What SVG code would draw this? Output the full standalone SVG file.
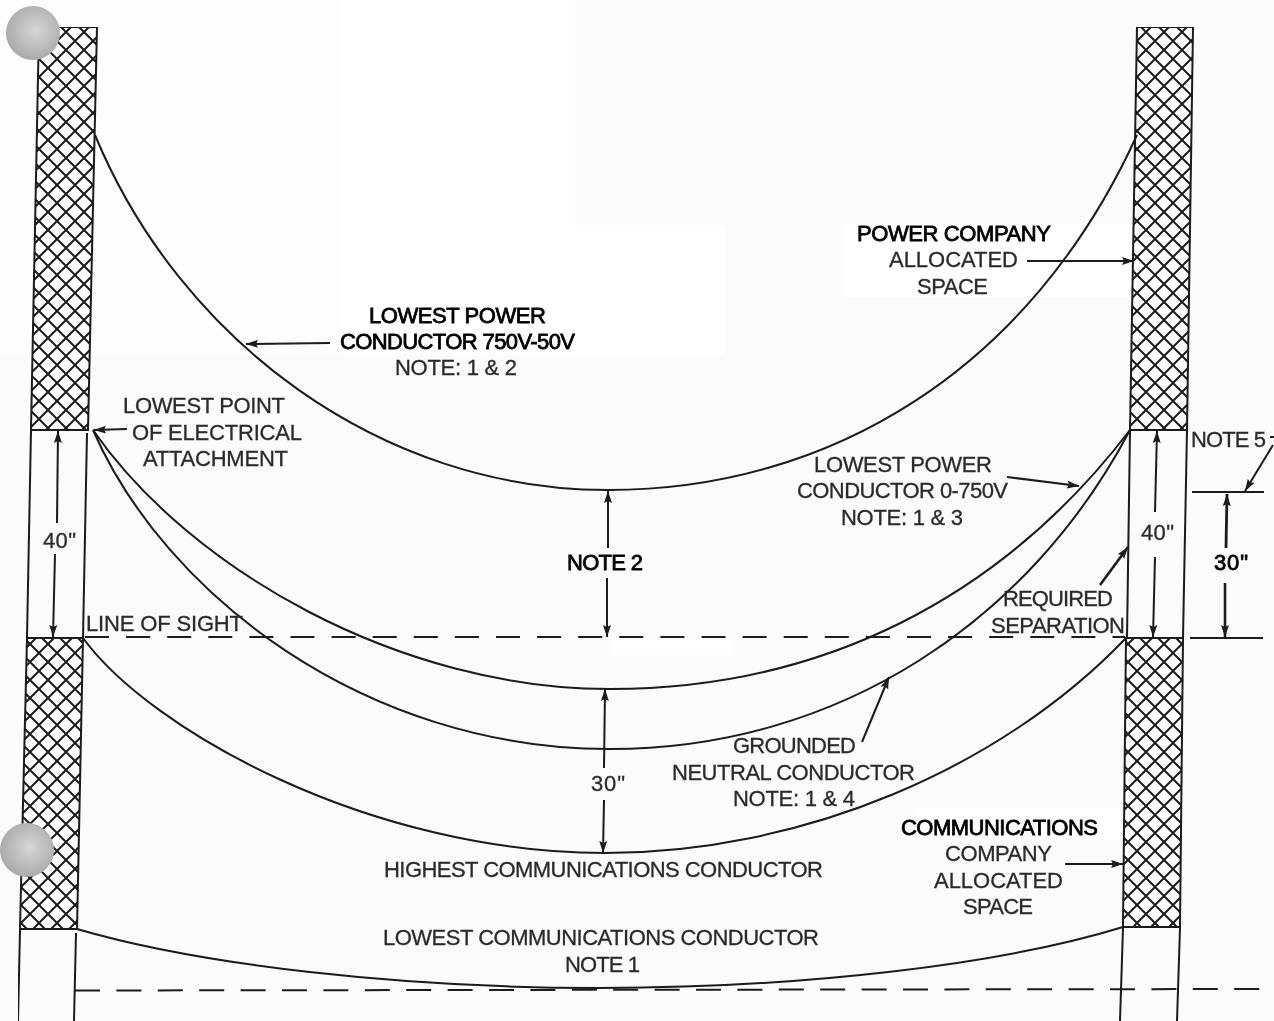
<svg xmlns="http://www.w3.org/2000/svg" width="1274" height="1021" viewBox="0 0 1274 1021">
<style>
.l{fill:none;stroke:#1a1a1a;stroke-width:2}
.d{fill:none;stroke:#1a1a1a;stroke-width:2}
.a{fill:none;stroke:#1a1a1a;stroke-width:2;marker-end:url(#ah)}
.p{fill:url(#hatch);stroke:#1a1a1a;stroke-width:2}
text{font-family:"Liberation Sans",Arial,sans-serif;font-size:22px;fill:#2a2a2a;stroke:#2a2a2a;stroke-width:.3}
.b{fill:#050505;stroke:#050505;stroke-width:.8}
.c{fill:url(#ball)}
</style>
<defs>
<pattern id="hatch" patternUnits="userSpaceOnUse" width="18" height="18" x="3" y="5">
<rect width="18" height="18" fill="#fff"/>
<path d="M-2,-2L20,20M-2,20L20,-2" stroke="#1a1a1a" stroke-width="2" fill="none"/>
</pattern>
<radialGradient id="ball" cx="0.55" cy="0.45" r="0.55">
<stop offset="0" stop-color="#d6d6d6"/><stop offset="1" stop-color="#ababab"/>
</radialGradient>
<marker id="ah" markerUnits="userSpaceOnUse" markerWidth="13" markerHeight="10" refX="12" refY="5" orient="auto">
<path d="M0,1L12,5L0,9L2,5z" fill="#1a1a1a"/>
</marker>
<filter id="soft" x="0" y="0" width="1" height="1"><feGaussianBlur stdDeviation="0.4"/></filter>
</defs>
<rect id="background" width="1274" height="1021" fill="#fbfbfb"/>
<g id="patches">
<rect x="0" y="0" width="340" height="355" fill="#fdfdfd"/>
<rect x="340" y="0" width="235" height="355" fill="#fff"/>
<rect x="575" y="225" width="150" height="72" fill="#fff"/>
<rect x="575" y="297" width="150" height="58" fill="#fff"/>
<rect x="845" y="224" width="290" height="73" fill="#fff"/>
<rect x="612" y="640" width="120" height="15" fill="#fff"/>
<rect x="917" y="808" width="205" height="32" fill="#fff"/>
</g>
<g filter="url(#soft)">
<g id="poles">
<g id="pole-left-upper"><path class="p" d="M39,27H97L88,430H31z"/></g>
<g id="pole-left-lower"><path class="p" d="M27,638H83L77,929H20z"/></g>
<g id="pole-right-upper"><path class="p" d="M1137,27H1193L1187,430H1130z"/></g>
<g id="pole-right-lower"><path class="p" d="M1126,638H1183L1180,927H1123z"/></g>
</g>
<g id="connectors">
<path class="l" d="M31,430L27,638M87,433L83,638M20,930L18,1021M76,933L74,1021"/>
<path class="l" d="M1130,430L1127,638M1187,430L1183,638M1123,928L1120,1021M1180,928L1177,1021"/>
<path class="l" d="M95,135C180,340 380,490 608,490C830,490 1030,370 1137,135"/>
<path class="l" d="M93,430C190,570 400,689 610,689C820,689 1000,600 1130,430"/>
<path class="l" d="M93,430C165,595 365,749 610,749C840,749 1030,620 1130,430"/>
<path class="l" d="M83,638C150,730 370,853 605,853C800,853 1000,770 1126,638"/>
<path class="l" d="M77,929C200,965 400,988 600,988C800,988 1000,965 1123,927"/>
<path class="d" stroke-dasharray="24 17.1" d="M85,637H1125"/>
<path class="d" stroke-dasharray="25 16.4" d="M75,990.5L1262,989"/>
<path class="l" d="M1192,492H1264M1190,638H1263M1270,437H1274"/>
<path class="a" d="M330,343L246,344"/>
<path class="a" d="M127,429L94,430"/>
<path class="a" d="M57,523L58,431"/>
<path class="a" d="M55,554L53,637"/>
<path class="a" d="M608,548V491"/>
<path class="a" d="M607,578V637"/>
<path class="a" d="M604,768L605,689"/>
<path class="a" d="M604,800L603,853"/>
<path class="a" d="M1155,512L1157,431"/>
<path class="a" d="M1155,557L1153,637"/>
<path class="a" style="stroke-width:2.8" d="M1226,548L1227,494"/>
<path class="a" style="stroke-width:2.6" d="M1225,583V637"/>
<path class="a" d="M1273,445L1245,491"/>
<path class="a" d="M1007,477L1079,486"/>
<path class="a" style="stroke-width:2.6" d="M1100,585L1128,547"/>
<path class="a" d="M1027,261H1134"/>
<path class="a" d="M1065,864H1123"/>
<path class="a" d="M862,742L889,677"/>
</g>
<g id="label-power-750"><text class="b" x="369" y="323" textLength="177">LOWEST POWER</text><text class="b" x="340" y="349" textLength="235">CONDUCTOR 750V-50V</text><text x="395" y="375" textLength="122">NOTE: 1 &amp; 2</text></g>
<g id="label-attachment"><text x="123" y="413" textLength="162">LOWEST POINT</text><text x="132" y="440" textLength="170">OF ELECTRICAL</text><text x="143" y="466" textLength="145">ATTACHMENT</text></g>
<g id="label-40-left"><text x="43" y="548" textLength="33">40"</text></g>
<g id="label-line-of-sight"><text x="86" y="631" textLength="157">LINE OF SIGHT</text></g>
<g id="label-note-2"><text class="b" x="567" y="570" textLength="76">NOTE 2</text></g>
<g id="label-30-center"><text x="591" y="791" textLength="34">30"</text></g>
<g id="label-power-space"><text class="b" x="857" y="241" textLength="194">POWER COMPANY</text><text x="889" y="267" textLength="129">ALLOCATED</text><text x="917" y="294" textLength="71">SPACE</text></g>
<g id="label-power-0-750"><text x="814" y="472" textLength="178">LOWEST POWER</text><text x="797" y="498" textLength="211">CONDUCTOR 0-750V</text><text x="841" y="525" textLength="122">NOTE: 1 &amp; 3</text></g>
<g id="label-note-5"><text x="1191" y="447" textLength="75">NOTE 5</text></g>
<g id="label-40-right"><text x="1141" y="540" textLength="33">40"</text></g>
<g id="label-30-right"><text class="b" x="1214" y="570" textLength="34">30"</text></g>
<g id="label-separation"><text x="1003" y="606" textLength="110">REQUIRED</text><text x="991" y="633" textLength="134">SEPARATION</text></g>
<g id="label-neutral"><text x="733" y="753" textLength="123">GROUNDED</text><text x="672" y="780" textLength="243">NEUTRAL CONDUCTOR</text><text x="733" y="806" textLength="122">NOTE: 1 &amp; 4</text></g>
<g id="label-highest"><text x="384" y="877" textLength="439">HIGHEST COMMUNICATIONS CONDUCTOR</text></g>
<g id="label-lowest"><text x="383" y="945" textLength="436">LOWEST COMMUNICATIONS CONDUCTOR</text><text x="565" y="972" textLength="75">NOTE 1</text></g>
<g id="label-comm-space"><text class="b" x="901" y="835" textLength="197">COMMUNICATIONS</text><text x="945" y="861" textLength="107">COMPANY</text><text x="934" y="888" textLength="129">ALLOCATED</text><text x="963" y="914" textLength="70">SPACE</text></g>
</g>
<g id="balls">
<circle class="c" cx="33" cy="33" r="27"/>
<circle class="c" cx="27" cy="850" r="27"/>
</g>
</svg>
